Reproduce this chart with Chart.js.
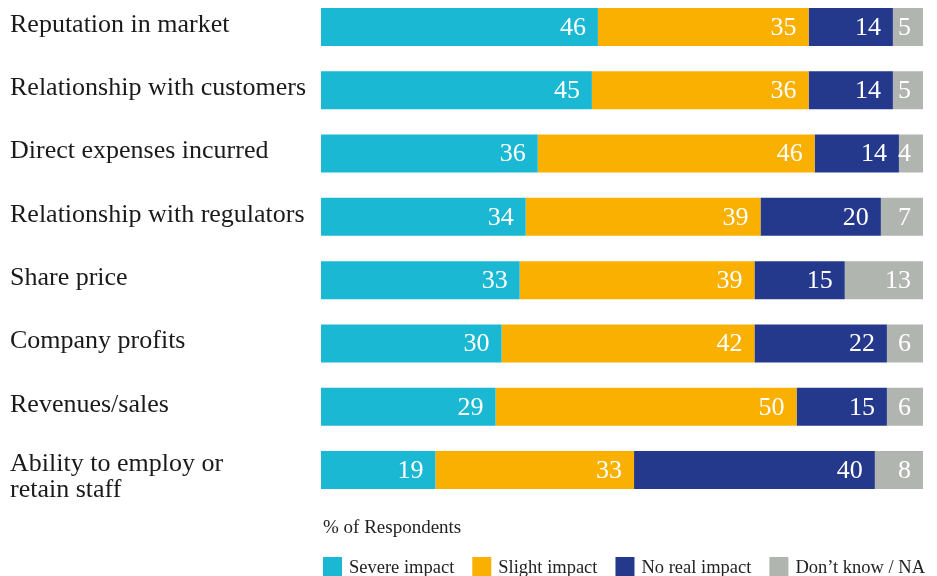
<!DOCTYPE html>
<html><head><meta charset="utf-8">
<script src="https://cdn.jsdelivr.net/npm/chart.js@4.4.1/dist/chart.umd.min.js"></script>
<style>html,body{margin:0;padding:0;background:#fff;} #wrap{width:937px;height:576px;position:relative;}</style>
</head><body><div id="wrap"><canvas id="c" width="937" height="576"></canvas></div>
<script>
const categories = [
  'Reputation in market',
  'Relationship with customers',
  'Direct expenses incurred',
  'Relationship with regulators',
  'Share price',
  'Company profits',
  'Revenues/sales',
  ['Ability to employ or', 'retain staff']
];
const severeImpact = [46, 45, 36, 34, 33, 30, 29, 19];
const slightImpact = [35, 36, 46, 39, 39, 42, 50, 33];
const noRealImpact = [14, 14, 14, 20, 15, 22, 15, 40];
const dontKnowNA   = [5, 5, 4, 7, 13, 6, 6, 8];
const seriesNames = ['Severe impact', 'Slight impact', 'No real impact', 'Don\u2019t know / NA'];
const axisNote = '% of Respondents';

const colors = ['#1BB8D4', '#F9B000', '#24388C', '#B0B5AF'];
const SERIF = '"Liberation Serif", "Times New Roman", serif';

// nudge multi-line category labels down a little, as in the reference
const labelNudge = {
  id: 'labelNudge',
  beforeDraw(chart) {
    const items = chart.scales.y.getLabelItems();
    items.forEach((it) => {
      if (Array.isArray(it.label) && !it._nudged) {
        it.options.translation[1] += 9;
        it._nudged = true;
      }
    });
  }
};

const valueLabels = {
  id: 'valueLabels',
  afterDatasetsDraw(chart) {
    const ctx = chart.ctx;
    ctx.save();
    ctx.font = '26px ' + SERIF;
    ctx.fillStyle = '#ffffff';
    ctx.textAlign = 'right';
    ctx.textBaseline = 'middle';
    chart.data.datasets.forEach((ds, di) => {
      const meta = chart.getDatasetMeta(di);
      meta.data.forEach((el, i) => {
        ctx.fillText(String(ds.data[i]), el.x - 12, el.y + 1);
      });
    });
    ctx.restore();
  }
};

const customLegend = {
  id: 'customLegend',
  afterDraw(chart) {
    const ctx = chart.ctx;
    const left = chart.chartArea.left + 2;
    ctx.save();
    ctx.fillStyle = '#222';
    ctx.textAlign = 'left';
    ctx.textBaseline = 'alphabetic';
    ctx.font = '19px ' + SERIF;
    ctx.fillText(axisNote, left, 533);
    ctx.font = '18.5px ' + SERIF;
    let x = left;
    chart.data.datasets.forEach((ds) => {
      ctx.fillStyle = ds.backgroundColor;
      ctx.fillRect(x, 557, 19, 19);
      ctx.fillStyle = '#222';
      ctx.fillText(ds.label, x + 26, 573);
      x += 26 + ctx.measureText(ds.label).width + 18;
    });
    ctx.restore();
  }
};

const seriesData = [severeImpact, slightImpact, noRealImpact, dontKnowNA];

new Chart(document.getElementById('c'), {
  type: 'bar',
  data: {
    labels: categories,
    datasets: seriesData.map((d, i) => ({
      label: seriesNames[i],
      data: d,
      backgroundColor: colors[i],
      borderWidth: 0,
      barPercentage: 0.6,
      categoryPercentage: 1,
      clip: false
    }))
  },
  options: {
    indexAxis: 'y',
    responsive: false,
    animation: false,
    devicePixelRatio: 1,
    layout: { padding: { left: 10, right: 14, top: 27, bottom: 106 } },
    plugins: { legend: { display: false }, tooltip: { enabled: false } },
    scales: {
      x: { stacked: true, min: 0, max: 100, display: false },
      y: {
        stacked: true,
        offset: false,
        grid: { display: false },
        border: { display: false },
        ticks: {
          crossAlign: 'far',
          padding: 0,
          labelOffset: -2,
          color: '#1a1a1a',
          font: { family: SERIF, size: 26, lineHeight: 1.0 }
        },
        afterFit(scale) { scale.width = 311; }
      }
    }
  },
  plugins: [labelNudge, valueLabels, customLegend]
});
</script>
</body></html>
